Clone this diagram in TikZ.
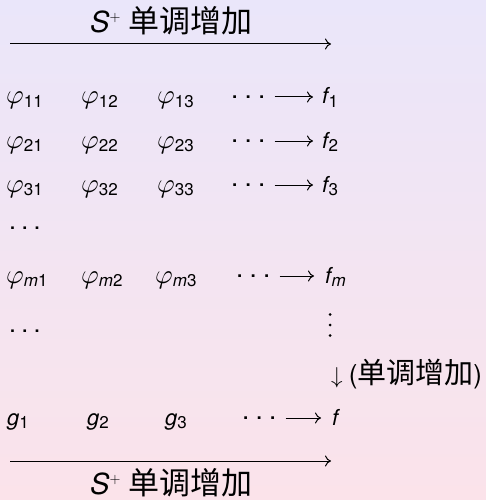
\documentclass[tikz,border=0pt]{standalone}
\usepackage{graphicx}
\usepackage{fontspec}
\setmainfont{TeX Gyre Heros}
\newfontfamily\cjk{Noto Sans CJK SC}
\usetikzlibrary{arrows.meta}
\definecolor{bgtop}{RGB}{234,230,250}
\definecolor{bgbot}{RGB}{251,227,234}
\newcommand\sbx[1]{\raisebox{-3.7pt}{\fontsize{17}{17}\selectfont #1}}
\newcommand\vph{\scalebox{2.7}{\fontsize{10}{12}\selectfont$\varphi$}}
\newcommand\dnarr{\scalebox{2.3}{\fontsize{10}{12}\selectfont$\downarrow$}}
\newcommand\pls{\raisebox{11pt}{\scalebox{1.4}{\fontsize{10}{12}\selectfont$\mathbf{+}$}}}
\newcommand\rdot{\raisebox{5.5pt}{.}}
\newcommand\dts{{\fontsize{26}{26}\selectfont\rdot\hspace{6.3pt}\rdot\hspace{6.3pt}\rdot}}
\newcommand\ldts{{\fontsize{25}{25}\selectfont.\hspace{5.2pt}.\hspace{5.2pt}.}}
\tikzset{
  txt/.style={anchor=base west, inner sep=0pt, font=\fontsize{22}{26}\selectfont},
  lbl/.style={anchor=base west, inner sep=0pt, font=\fontsize{29}{34}\selectfont},
  arr/.style={line width=1pt, -{Computer Modern Rightarrow[length=6pt,width=11pt]}},
  vdot/.style={fill=black}
}
\begin{document}
\begin{tikzpicture}[x=1pt,y=-1pt]
\shade[top color=bgtop, bottom color=bgbot] (0,0) rectangle (486,500);
\useasboundingbox (0,0) rectangle (486,500);
% top label and arrow
\node[lbl] (tl) at (90,33) {\textit{S}\pls\ {\cjk\fontsize{31}{34}\selectfont 单调增加}};
\coordinate (ta0) at (10,44);
\coordinate (ta1) at (331,44);
\draw[arr] (ta0) -- (ta1);
% rows
\foreach \r/\y in {1/104,2/148,3/192}{
  \node[txt] (p\r1) at (6,\y) {\vph\sbx{\r1}};
  \node[txt] (p\r2) at (81,\y) {\vph\sbx{\r2}};
  \node[txt] (p\r3) at (157,\y) {\vph\sbx{\r3}};
  \node[txt] (d\r) at (231,\y) {\dts};
  \node[txt] (f\r) at (322,\y) {\textit{f}\kern-1.5pt\sbx{\r}};
  \draw[arr] ([shift={(9pt,7pt)}]d\r.base east) -- ([shift={(-9pt,7pt)}]f\r.base west);
}
\node[txt] (ld1) at (9,229) {\ldts};
\node[txt] (pm1) at (6,283) {\vph\sbx{\textit{m}1}};
\node[txt] (pm2) at (81,283) {\vph\sbx{\textit{m}2}};
\node[txt] (pm3) at (155,283) {\vph\sbx{\textit{m}3}};
\node[txt] (dm) at (236,283) {\dts};
\node[txt] (fm) at (325,283) {\textit{f}\kern-1.5pt\sbx{\textit{m}}};
\draw[arr] ([shift={(9pt,7pt)}]dm.base east) -- ([shift={(-11pt,7pt)}]fm.base west);
\node[txt] (ld2) at (9,332) {\ldts};
% vertical dots
\coordinate (vd) at (330,325);
\foreach \dy in {-10.5,0,10.5}{\fill[vdot] ([yshift=-\dy pt]vd) circle (1.5pt);}
\node[txt] (down) at (331,383) {\dnarr\ {\fontsize{26}{28}\selectfont(\cjk\fontsize{29}{30}\selectfont 单调增加\fontspec{TeX Gyre Heros}\fontsize{26}{28}\selectfont)}};
\node[txt] (g1) at (7,425) {\textit{g}\sbx{1}};
\node[txt] (g2) at (87,425) {\textit{g}\sbx{2}};
\node[txt] (g3) at (165,425) {\textit{g}\sbx{3}};
\node[txt] (dg) at (242,425) {\dts};
\node[txt] (fg) at (332,425) {\textit{f}};
\draw[arr] ([shift={(9pt,7pt)}]dg.base east) -- ([shift={(-11pt,7pt)}]fg.base west);
% bottom arrow and label
\coordinate (ba0) at (10,461);
\coordinate (ba1) at (331,461);
\draw[arr] (ba0) -- (ba1);
\node[lbl] (bl) at (90,494) {\textit{S}\pls\ {\cjk\fontsize{31}{34}\selectfont 单调增加}};
\end{tikzpicture}
\end{document}
